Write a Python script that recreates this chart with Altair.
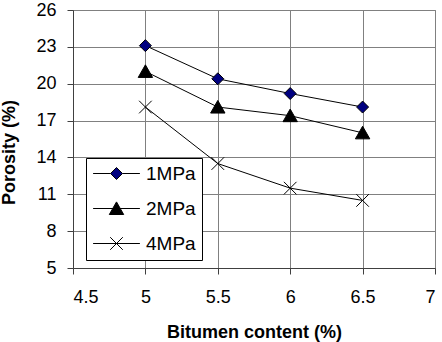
import altair as alt
import pandas as pd

# Bitumen content (%) and porosity (%) for each compaction pressure
bitumen = [5.0, 5.5, 6.0, 6.5]
porosity_1mpa = [23.1, 20.4, 19.2, 18.1]
porosity_2mpa = [21.0, 18.1, 17.4, 16.0]
porosity_4mpa = [18.1, 13.5, 11.5, 10.5]
series = ["1MPa", "2MPa", "4MPa"]

x_ticks = [4.5, 5.0, 5.5, 6.0, 6.5, 7.0]
y_ticks = [5, 8, 11, 14, 17, 20, 23, 26]

rows = []
for name, vals in zip(series, [porosity_1mpa, porosity_2mpa, porosity_4mpa]):
    for b, p in zip(bitumen, vals):
        rows.append({"bitumen": b, "porosity": p, "series": name})
df = pd.DataFrame(rows)

FONT = "Liberation Sans"
GRID = "#808080"

# marker shapes (unit = half the symbol size)
marker_paths = [
    "M0,-1L1,0L0,1L-1,0Z",
    "M0,-1.1L1.2,1L-1.2,1Z",
    "M-1.05,-1.05L1.05,1.05M-1.05,1.05L1.05,-1.05",
]
# legend symbols: marker with a line segment through it
legend_paths = [
    "M-3.9,0L-1,0M1,0L3.9,0M0,-1L1,0L0,1L-1,0Z",
    "M-3.9,0L3.9,0M0,-1.1L1.2,1L-1.2,1Z",
    "M-3.9,0L3.9,0M-1.05,-1.05L1.05,1.05M-1.05,1.05L1.05,-1.05",
]
fills = ["#000080", "#000000", "transparent"]
strokes = ["#000000", "#000000", "#000000"]

x_enc = alt.X(
    "bitumen:Q",
    scale=alt.Scale(domain=[4.5, 7], nice=False, zero=False),
    axis=alt.Axis(
        values=x_ticks, format="~g", title="Bitumen content (%)",
        grid=True, gridColor=GRID, gridWidth=1,
        domainColor="#404040", tickColor="#404040", tickSize=6,
        labelFontSize=18, labelPadding=14, labelColor="black",
        titleFontSize=18, titleFontWeight="bold", titleColor="black",
        titleBaseline="alphabetic", titleY=69,
    ),
)
y_enc = alt.Y(
    "porosity:Q",
    scale=alt.Scale(domain=[5, 26], nice=False, zero=False),
    axis=alt.Axis(
        values=y_ticks, title="Porosity (%)",
        grid=True, gridColor=GRID, gridWidth=1,
        domainColor="#404040", tickColor="#404040", tickSize=6,
        labelFontSize=18, labelPadding=11, labelColor="black",
        titleFontSize=18, titleFontWeight="bold", titleColor="black",
        titleAngle=270, titleBaseline="alphabetic", titleAlign="center",
        titleX=-59, titleY=142,
    ),
)

base = alt.Chart(df)

lines = base.mark_line(color="black", strokeWidth=1).encode(
    x=x_enc, y=y_enc, detail="series:N"
)

points = base.mark_point(
    stroke="black", strokeWidth=1, size=144, opacity=1, fillOpacity=1
).encode(
    x=x_enc,
    y=y_enc,
    shape=alt.Shape("series:N", scale=alt.Scale(domain=series, range=marker_paths), legend=None),
    fill=alt.Fill("series:N", scale=alt.Scale(domain=series, range=fills), legend=None),
)

legend = alt.Legend(
    title=None, orient="none", legendX=13, legendY=148,
    padding=6, strokeColor="black", fillColor="white",
    symbolSize=144, symbolStrokeWidth=1, symbolStrokeColor="black",
    symbolOffset=15, labelOffset=20, rowPadding=15,
    labelFontSize=19, labelColor="black", labelFont=FONT,
)

legend_layer = base.transform_filter("false").mark_point(
    strokeWidth=1, size=144, opacity=1, fillOpacity=1, strokeOpacity=1
).encode(
    x=x_enc,
    y=y_enc,
    shape=alt.Shape("series:N", scale=alt.Scale(domain=series, range=legend_paths), legend=legend),
    fill=alt.Fill("series:N", scale=alt.Scale(domain=series, range=fills), legend=legend),
    stroke=alt.Stroke("series:N", scale=alt.Scale(domain=series, range=strokes), legend=legend),
)

chart = (
    alt.layer(lines, points, legend_layer)
    .resolve_scale(shape="independent", fill="independent", stroke="independent")
    .properties(
        width=362, height=258,
        padding={"left": 73, "top": 10, "right": 7, "bottom": 74},
        autosize=alt.AutoSizeParams(type="none"),
        background="white",
    )
    .configure(font=FONT)
    .configure_view(stroke=GRID, strokeWidth=1)
)

chart.save("out.html", embed_options={"renderer": "svg", "actions": False})
